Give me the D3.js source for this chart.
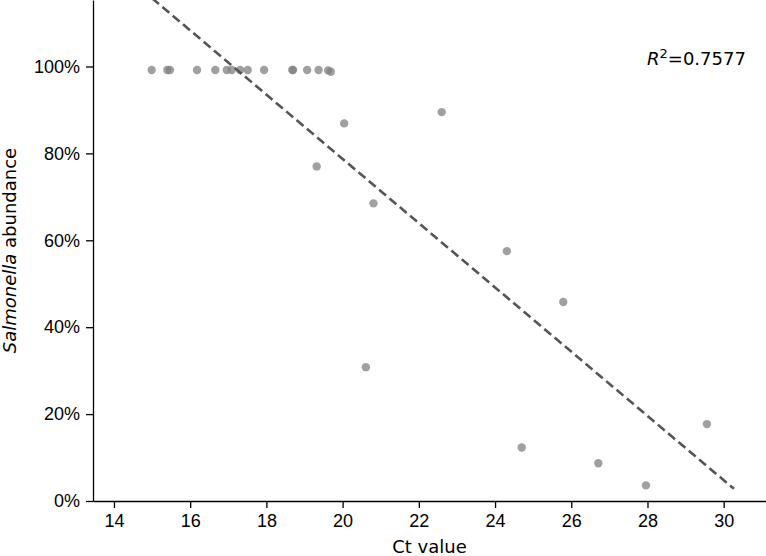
<!DOCTYPE html>
<html>
<head>
<meta charset="utf-8">
<script src="https://cdn.jsdelivr.net/npm/d3@7"></script>
<style>
  body { margin: 0; background: #fff; }
  svg { display: block; font-family: "DejaVu Sans", sans-serif; }
</style>
</head>
<body>
<svg id="chart"></svg>
<script>
// data
const ctValues = [14.99, 15.40, 15.47, 16.18, 16.66, 16.96, 17.09, 17.31, 17.51, 17.94,
  18.68, 18.70, 19.07, 19.37, 19.62, 19.69,
  20.04, 19.32, 20.81, 22.60, 24.31, 25.79, 20.61, 24.70, 26.71, 27.96, 29.56];
const abundance = [99.2, 99.2, 99.2, 99.2, 99.2, 99.2, 99.2, 99.2, 99.2, 99.2,
  99.2, 99.2, 99.2, 99.2, 99.1, 98.8,
  86.9, 77.0, 68.5, 89.5, 57.5, 45.8, 30.8, 12.3, 8.7, 3.6, 17.7];

// regression line ends
const fitX = [15.0, 30.27];
const fitY = [115.7, 2.8];

const xTicks = [14, 16, 18, 20, 22, 24, 26, 28, 30];
const yTicks = [0, 20, 40, 60, 80, 100];
const r2Label = "0.7577";

const points = ctValues.map((c, i) => ({ ct: c, ab: abundance[i] }));
const fitLine = fitX.map((x, i) => ({ ct: x, ab: fitY[i] }));

// dims
const W = 766, H = 556;
const margin = { top: 0, right: 0, bottom: 55, left: 93 };

const svg = d3.select("#chart").attr("width", W).attr("height", H);

const x = d3.scaleLinear().domain([13.45, 31.11]).range([margin.left, W - margin.right]);
const y = d3.scaleLinear().domain([0, 115.3]).range([H - margin.bottom, margin.top]);

svg.append("defs").append("clipPath").attr("id", "plot")
  .append("rect")
  .attr("x", margin.left).attr("y", margin.top)
  .attr("width", W - margin.left - margin.right)
  .attr("height", H - margin.top - margin.bottom);

// axes
const xAxis = svg.append("g")
  .attr("transform", `translate(0,${H - margin.bottom})`)
  .call(d3.axisBottom(x).tickValues(xTicks).tickSize(7).tickPadding(6).tickSizeOuter(0));

const yAxis = svg.append("g")
  .attr("transform", `translate(${margin.left},0)`)
  .call(d3.axisLeft(y).tickValues(yTicks).tickSize(7).tickPadding(6).tickSizeOuter(0)
    .tickFormat(d => d + "%"));

[xAxis, yAxis].forEach(g => {
  g.select(".domain").attr("stroke", "#000").attr("stroke-width", 1.3);
  g.selectAll(".tick line").attr("stroke", "#000").attr("stroke-width", 1.3);
  g.selectAll(".tick text").attr("fill", "#000").style("font-size", "18px");
});

// axis titles
svg.append("text")
  .attr("x", (margin.left + W - margin.right) / 2)
  .attr("y", 553)
  .attr("text-anchor", "middle")
  .style("font-size", "18px")
  .text("Ct value");

const yTitle = svg.append("text")
  .attr("transform", `translate(16,${(H - margin.bottom) / 2}) rotate(-90)`)
  .attr("text-anchor", "middle")
  .style("font-size", "18px");
yTitle.append("tspan").style("font-style", "italic").text("Salmonella");
yTitle.append("tspan").text(" abundance");

// points
svg.append("g")
  .attr("clip-path", "url(#plot)")
  .selectAll("circle")
  .data(points)
  .join("circle")
  .attr("cx", d => x(d.ct))
  .attr("cy", d => y(d.ab))
  .attr("r", 4.2)
  .attr("fill", "#808080")
  .attr("fill-opacity", 0.75);

// fit line
const lineGen = d3.line().x(d => x(d.ct)).y(d => y(d.ab));
svg.append("path")
  .attr("clip-path", "url(#plot)")
  .attr("d", lineGen(fitLine))
  .attr("fill", "none")
  .attr("stroke", "#555")
  .attr("stroke-width", 2.6)
  .attr("stroke-dasharray", "9,4.5");

// R^2 annotation
const r2 = svg.append("text")
  .attr("x", 647)
  .attr("y", 65)
  .style("font-size", "18px");
r2.append("tspan").style("font-style", "italic").text("R");
r2.append("tspan").attr("dy", -7).style("font-size", "13px").text("2");
r2.append("tspan").attr("dy", 7).text("=" + r2Label);
</script>
</body>
</html>
